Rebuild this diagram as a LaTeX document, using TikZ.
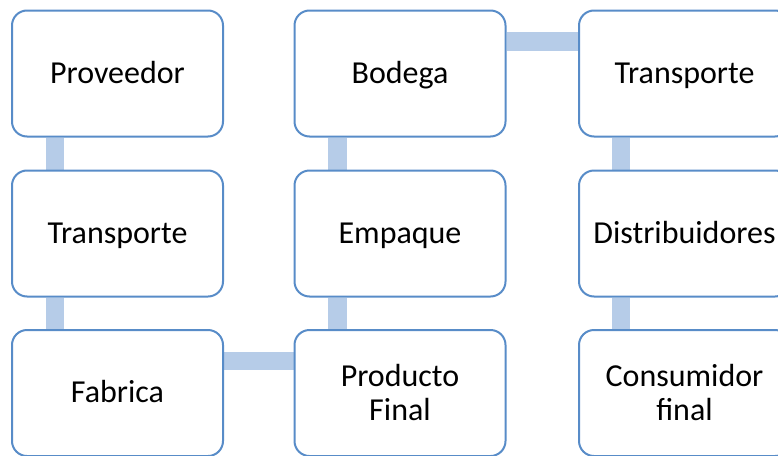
\documentclass[tikz,border=0pt]{standalone}
\usepackage{fontspec}
\setmainfont{Carlito}
\definecolor{boxline}{RGB}{88,140,200}
\definecolor{linkfill}{RGB}{182,204,232}
\pgfdeclarelayer{back}
\pgfsetlayers{back,main}
\tikzset{
  stage/.style={draw=boxline, line width=2pt, fill=white, rounded corners=15pt,
    minimum width=211pt, minimum height=126pt, inner sep=0pt, align=center,
    font=\fontsize{32}{34}\selectfont},
  oneline/.style={stage, text height=23pt, text depth=4pt},
  link/.style={draw=linkfill, line width=18.5pt, line cap=butt}
}
\begin{document}
\begin{tikzpicture}[x=1pt, y=-1pt]
  \useasboundingbox (0,0) rectangle (778,455);
  \clip (0,0) rectangle (778,455);
  % stages, column by column
  \node[oneline] (prov)  at (117.5,73.5) {Proveedor};
  \node[oneline] (trans) at (117.5,233.5) {Transporte};
  \node[oneline] (fab)   at (117.5,393) {Fabrica};
  \node[stage] (prod)  at (400,393) {Producto\\Final};
  \node[oneline] (emp)   at (400,233.5) {Empaque};
  \node[oneline] (bod)   at (400,73.5) {Bodega};
  \node[oneline] (trans2) at (684.5,73.5) {Transporte};
  \node[oneline] (dist)  at (684.5,233.5) {Distribuidores};
  \node[stage] (cons)  at (684.5,393) {Consumidor\\final};
  % connecting bars between consecutive stages, behind the boxes
  \begin{pgfonlayer}{back}
    \path[link] ([xshift=44pt]prov.south west) -- ([xshift=44pt]trans.north west);
    \path[link] ([xshift=44pt]trans.south west) -- ([xshift=44pt]fab.north west);
    \path[link] ([yshift=-32pt]fab.north east) -- ([yshift=-32pt]prod.north west);
    \path[link] ([xshift=44pt]prod.north west) -- ([xshift=44pt]emp.south west);
    \path[link] ([xshift=44pt]emp.north west) -- ([xshift=44pt]bod.south west);
    \path[link] ([yshift=-32pt]bod.north east) -- ([yshift=-32pt]trans2.north west);
    \path[link] ([xshift=43pt]trans2.south west) -- ([xshift=43pt]dist.north west);
    \path[link] ([xshift=43pt]dist.south west) -- ([xshift=43pt]cons.north west);
  \end{pgfonlayer}
\end{tikzpicture}
\end{document}
